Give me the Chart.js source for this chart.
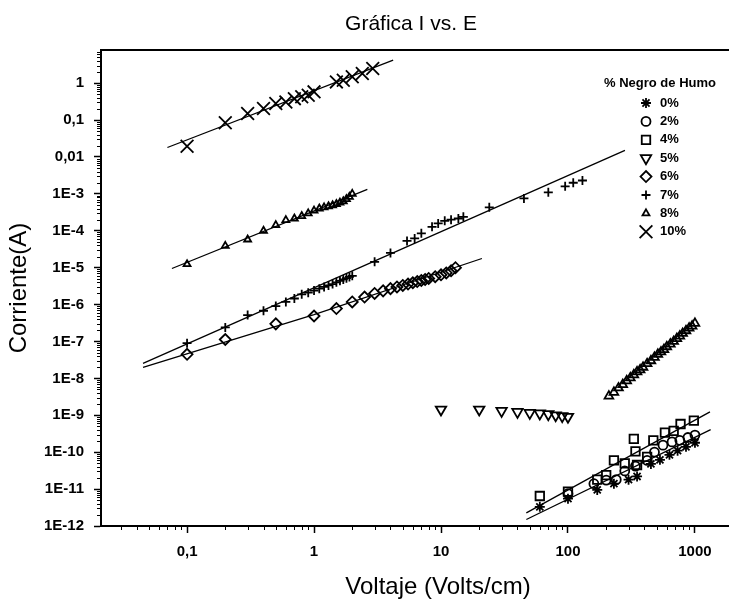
<!DOCTYPE html>
<html lang="es">
<head>
<meta charset="utf-8">
<title>Gráfica I vs. E</title>
<script src="https://cdn.jsdelivr.net/npm/chart.js@4.4.1/dist/chart.umd.min.js"></script>
<style>
  html, body { margin: 0; padding: 0; background: #fff; overflow: hidden; }
  #grafica { display: block; }
</style>
</head>
<body>
<canvas id="grafica" width="822" height="603"></canvas>
<script>
"use strict";

// marcas de los ejes (log-log)
const ticksE = [0.1, 1, 10, 100, 1000];
const etiquetasE = ['0,1', '1', '10', '100', '1000'];
const ticksI = [1e-12, 1e-11, 1e-10, 1e-9, 1e-8, 1e-7, 1e-6, 1e-5, 1e-4, 1e-3, 0.01, 0.1, 1];
const etiquetasI = ['1E-12', '1E-11', '1E-10', '1E-9', '1E-8', '1E-7', '1E-6', '1E-5', '1E-4', '1E-3', '0,01', '0,1', '1'];

// % negro de humo
const muestras = ['0%', '2%', '4%', '5%', '6%', '7%', '8%', '10%'];

// campo E (Volts/cm) y corriente I (A) de cada muestra
const e0 = [60, 100, 170, 230, 300, 350, 450, 530, 630, 730, 850, 1000];
const i0 = [3.3e-12, 5.5e-12, 9.5e-12, 1.4e-11, 1.8e-11, 2.2e-11, 4.8e-11, 6.2e-11, 8.5e-11, 1.1e-10, 1.4e-10, 1.8e-10];

const e2 = [100, 160, 200, 240, 280, 340, 420, 480, 560, 660, 760, 880, 1000];
const i2 = [7.5e-12, 1.4e-11, 1.75e-11, 1.8e-11, 3.1e-11, 4.2e-11, 6.0e-11, 1.0e-10, 1.55e-10, 1.9e-10, 2.1e-10, 2.5e-10, 2.9e-10];

const e4 = [60, 100, 170, 200, 230, 280, 330, 340, 350, 420, 470, 580, 680, 770, 980];
const i4 = [6.5e-12, 8.5e-12, 1.8e-11, 2.4e-11, 6.0e-11, 5.0e-11, 2.3e-10, 1.05e-10, 4.5e-11, 7.5e-11, 2.1e-10, 3.4e-10, 3.8e-10, 5.8e-10, 7.2e-10];

const e5 = [10, 20, 30, 40, 50, 60, 70, 80, 90, 100];
const i5 = [1.43e-9, 1.43e-9, 1.32e-9, 1.24e-9, 1.16e-9, 1.12e-9, 1.07e-9, 1.0e-9, 9.5e-10, 9.1e-10];

// triángulos a campo alto (200-1000 V/cm)
const eAlto = [210, 230, 250, 270, 290, 310, 330, 350, 370, 390, 420, 450, 480, 510, 540, 570, 600, 640, 680, 720, 760, 800, 850, 900, 950, 1000];
const iAlto = [3.3e-9, 4.2e-9, 5.5e-9, 6.8e-9, 8.6e-9, 1.03e-8, 1.25e-8, 1.5e-8, 1.7e-8, 2.0e-8, 2.5e-8, 3.0e-8, 3.7e-8, 4.5e-8, 5.2e-8, 6.0e-8, 7.2e-8, 8.5e-8, 1.0e-7, 1.2e-7, 1.4e-7, 1.65e-7, 1.95e-7, 2.3e-7, 2.6e-7, 3.1e-7];

const e6 = [0.1, 0.2, 0.5, 1, 1.5, 2, 2.5, 3, 3.5, 4, 4.5, 5, 5.5, 6, 6.5, 7, 7.5, 8, 9, 10, 11, 12, 13];
const i6 = [4.5e-8, 1.13e-7, 3.0e-7, 4.9e-7, 7.8e-7, 1.18e-6, 1.6e-6, 2.0e-6, 2.35e-6, 2.7e-6, 3.0e-6, 3.3e-6, 3.6e-6, 3.9e-6, 4.2e-6, 4.5e-6, 4.8e-6, 5.1e-6, 5.7e-6, 6.4e-6, 7.2e-6, 8.2e-6, 1.0e-5];

const e7 = [0.1, 0.2, 0.3, 0.4, 0.5, 0.6, 0.7, 0.8, 0.9, 1.0, 1.1, 1.2, 1.3, 1.4, 1.5, 1.6, 1.7, 1.8, 1.9, 2.0,
            3, 4, 5.4, 6.2, 7, 8.5, 9.5, 10.7, 12, 13.7, 15, 24, 45, 70, 95, 110, 130];
const i7 = [9e-8, 2.4e-7, 5.2e-7, 6.8e-7, 9.1e-7, 1.18e-6, 1.46e-6, 1.9e-6, 2.1e-6, 2.4e-6, 2.7e-6, 3.0e-6, 3.3e-6, 3.6e-6, 4.0e-6, 4.4e-6, 4.8e-6, 5.2e-6, 5.6e-6, 6.0e-6,
            1.44e-5, 2.5e-5, 5.3e-5, 6.2e-5, 8.5e-5, 1.28e-4, 1.58e-4, 1.86e-4, 2.0e-4, 2.15e-4, 2.38e-4, 4.3e-4, 7.5e-4, 1.1e-3, 1.6e-3, 2.0e-3, 2.3e-3];

const e8 = [0.1, 0.2, 0.3, 0.4, 0.5, 0.6, 0.7, 0.8, 0.9, 1.0, 1.1, 1.2, 1.3, 1.4, 1.5, 1.6, 1.7, 1.8, 1.9, 2.0];
const i8 = [1.24e-5, 3.9e-5, 5.8e-5, 1.0e-4, 1.42e-4, 1.94e-4, 2.15e-4, 2.5e-4, 2.95e-4, 3.5e-4, 4.0e-4, 4.3e-4, 4.6e-4, 4.9e-4, 5.3e-4, 5.8e-4, 6.3e-4, 7.2e-4, 8.3e-4, 1.0e-3];

const e10 = [0.1, 0.2, 0.3, 0.4, 0.5, 0.6, 0.7, 0.8, 0.9, 1.0, 1.5, 1.7, 2.0, 2.4, 2.9];
const i10 = [0.0196, 0.084, 0.151, 0.206, 0.28, 0.31, 0.38, 0.43, 0.47, 0.58, 1.08, 1.2, 1.48, 1.83, 2.5];

// rectas de ajuste (extremos)
const ajusteE2 = [47, 1330],   ajusteI2 = [1.5e-12, 4.1e-10];
const ajusteE4 = [47, 1313],   ajusteI4 = [2.26e-12, 1.24e-9];
const ajusteE6 = [0.045, 1, 21], ajusteI6 = [2.0e-8, 5.3e-7, 1.77e-5];
const ajusteE7 = [0.045, 281], ajusteI7 = [2.55e-8, 1.5e-2];
const ajusteE8 = [0.076, 2.63], ajusteI8 = [9.5e-6, 1.32e-3];
const ajusteE10 = [0.07, 4.2], ajusteI10 = [0.018, 4.2];

const fuente = "'Liberation Sans', Arial, sans-serif";

function puntos(e, i) {
  return e.map((x, k) => ({ x: x, y: i[k] }));
}

function serie(label, e, i, estilo, radio, rotacion, enLeyenda) {
  return {
    label: label,
    data: puntos(e, i),
    pointStyle: estilo,
    pointRadius: radio,
    pointRotation: rotacion || 0,
    pointBorderWidth: 1.8,
    pointBorderColor: '#000',
    pointBackgroundColor: 'rgba(0,0,0,0)',
    showLine: false,
    enLeyenda: enLeyenda !== false
  };
}

function recta(e, i) {
  return {
    label: 'ajuste',
    data: puntos(e, i),
    showLine: true,
    borderColor: '#000',
    borderWidth: 1.3,
    pointRadius: 0,
    enLeyenda: false
  };
}

// marcas menores de los ejes y borde superior
const marcasMenores = {
  id: 'marcasMenores',
  afterDraw(chart) {
    const { ctx, chartArea: ca, scales: { x, y } } = chart;
    ctx.save();
    ctx.strokeStyle = '#000';
    ctx.lineWidth = 1;
    ctx.beginPath();
    for (let d = -3; d <= 4; d++) {
      for (let k = 2; k <= 9; k++) {
        const v = k * Math.pow(10, d);
        if (v > x.min && v < x.max) {
          const px = Math.round(x.getPixelForValue(v)) + 0.5;
          ctx.moveTo(px, ca.bottom);
          ctx.lineTo(px, ca.bottom + 4);
        }
      }
    }
    for (let d = -13; d <= 1; d++) {
      for (let k = 2; k <= 9; k++) {
        const v = k * Math.pow(10, d);
        if (v > y.min && v < y.max) {
          const py = Math.round(y.getPixelForValue(v)) + 0.5;
          ctx.moveTo(ca.left, py);
          ctx.lineTo(ca.left - 4, py);
        }
      }
    }
    ctx.stroke();
    ctx.lineWidth = 2;
    ctx.beginPath();
    ctx.moveTo(ca.left, ca.top);
    ctx.lineTo(ca.right, ca.top);
    ctx.stroke();
    ctx.restore();
  }
};

// leyenda con título dentro del área
const leyenda = {
  id: 'leyenda',
  afterDraw(chart, args, opts) {
    const ctx = chart.ctx;
    ctx.save();
    ctx.fillStyle = '#000';
    ctx.font = 'bold 13px ' + fuente;
    ctx.textAlign = 'center';
    ctx.textBaseline = 'middle';
    ctx.fillText(opts.titulo, opts.x + 14, opts.y);
    ctx.textAlign = 'left';
    let fila = 0;
    chart.data.datasets.forEach(ds => {
      if (!ds.enLeyenda) return;
      const yy = opts.y + 20 + fila * opts.paso;
      ctx.strokeStyle = '#000';
      ctx.fillStyle = 'rgba(0,0,0,0)';
      ctx.lineWidth = 1.8;
      Chart.helpers.drawPoint(ctx, {
        pointStyle: ds.pointStyle,
        rotation: ds.pointRotation,
        radius: ds.pointRadius,
        borderWidth: 1.8
      }, opts.x, yy);
      ctx.fillStyle = '#000';
      ctx.fillText(ds.label, opts.x + 14, yy);
      fila++;
    });
    ctx.restore();
  }
};

new Chart(document.getElementById('grafica'), {
  type: 'scatter',
  data: {
    datasets: [
      serie(muestras[0], e0, i0, 'star', 5),
      serie(muestras[1], e2, i2, 'circle', 4.5),
      serie(muestras[2], e4, i4, 'rect', 6),
      serie(muestras[3], e5, i5, 'triangle', 6, 180),
      serie(muestras[4], e6, i6, 'rectRot', 5.5),
      serie(muestras[5], e7, i7, 'cross', 4.5),
      serie(muestras[6], e8, i8, 'triangle', 4),
      serie(muestras[7], e10, i10, 'crossRot', 9),
      serie('alto campo', eAlto, iAlto, 'triangle', 5, 0, false),
      recta(ajusteE2, ajusteI2),
      recta(ajusteE4, ajusteI4),
      recta(ajusteE6, ajusteI6),
      recta(ajusteE7, ajusteI7),
      recta(ajusteE8, ajusteI8),
      recta(ajusteE10, ajusteI10)
    ]
  },
  options: {
    responsive: false,
    devicePixelRatio: 1,
    animation: false,
    events: [],
    layout: { padding: 0 },
    plugins: {
      legend: { display: false },
      tooltip: { enabled: false },
      title: {
        display: true,
        text: 'Gráfica I vs. E',
        color: '#000',
        font: { family: fuente, size: 21, weight: 'normal' },
        padding: { top: 12, bottom: 12.8 }
      },
      leyenda: { titulo: '% Negro de Humo', x: 646, y: 83, paso: 18.4 }
    },
    scales: {
      x: {
        type: 'logarithmic',
        min: 0.021,
        max: 4270,
        afterBuildTicks: ax => { ax.ticks = ticksE.map(v => ({ value: v })); },
        afterFit: ax => { ax.height = 77; },
        ticks: {
          autoSkip: false,
          maxRotation: 0,
          color: '#000',
          padding: 10,
          font: { family: fuente, size: 15, weight: 'bold' },
          callback: v => etiquetasE[ticksE.indexOf(v)]
        },
        grid: { drawOnChartArea: false, drawTicks: true, tickLength: 7, tickColor: '#000', tickWidth: 1.5 },
        border: { display: true, color: '#000', width: 2 },
        title: {
          display: true,
          text: 'Voltaje (Volts/cm)',
          color: '#000',
          font: { family: fuente, size: 24 },
          padding: { top: 0, bottom: 1.6 }
        }
      },
      y: {
        type: 'logarithmic',
        min: 1e-12,
        max: 7.9,
        afterBuildTicks: ax => { ax.ticks = ticksI.map(v => ({ value: v })); },
        afterFit: ax => { ax.width = 101; },
        ticks: {
          autoSkip: false,
          color: '#000',
          padding: 10,
          font: { family: fuente, size: 15, weight: 'bold' },
          callback: v => etiquetasI[ticksI.indexOf(v)]
        },
        grid: { drawOnChartArea: false, drawTicks: true, tickLength: 7, tickColor: '#000', tickWidth: 1.5 },
        border: { display: true, color: '#000', width: 2 },
        title: {
          display: true,
          text: 'Corriente(A)',
          color: '#000',
          font: { family: fuente, size: 24 },
          padding: { top: 4.6, bottom: 0 }
        }
      },
      // margen derecho: el marco continúa fuera de la vista
      yDer: {
        type: 'linear',
        position: 'right',
        display: true,
        ticks: { display: false },
        grid: { display: false, drawTicks: false },
        border: { display: false },
        afterFit: ax => { ax.width = 47; }
      }
    }
  },
  plugins: [marcasMenores, leyenda]
});
</script>
</body>
</html>
